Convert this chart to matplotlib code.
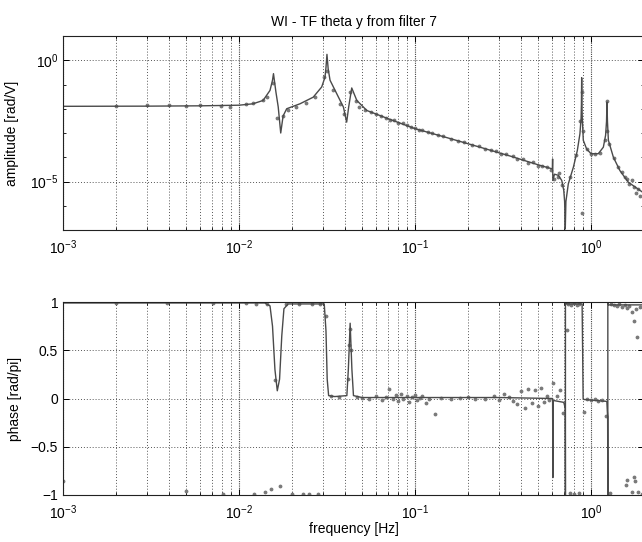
import matplotlib
matplotlib.use("Agg")
import matplotlib.pyplot as plt
from matplotlib.ticker import FixedLocator, LogLocator, NullFormatter, LogFormatterSciNotation

plt.rcParams['font.family'] = ['Liberation Sans', 'DejaVu Sans']
plt.rcParams['mathtext.default'] = 'regular'

# amplitude fit line [Hz, rad/V]
amp_line_f = [0.001, 0.003, 0.006, 0.01, 0.012, 0.0137, 0.015, 0.0155, 0.0157, 0.0162,
              0.0167, 0.01726, 0.0178, 0.01866, 0.0222, 0.0264, 0.0295, 0.0308, 0.0312,
              0.0316, 0.0321, 0.0329, 0.0359, 0.0392, 0.0409, 0.042, 0.0437, 0.0467,
              0.0532, 0.0703, 0.1, 0.15, 0.234, 0.35, 0.5, 0.603, 0.605, 0.607, 0.62,
              0.652, 0.682, 0.70, 0.708, 0.714, 0.72, 0.743, 0.794, 0.836, 0.865, 0.878,
              0.882, 0.885, 0.888, 0.892, 0.904, 0.944, 1.0, 1.1, 1.175, 1.21, 1.225,
              1.232, 1.24, 1.255, 1.34, 1.46, 1.63, 2.0]
amp_line_val = [0.0126, 0.0128, 0.0132, 0.0140, 0.0160, 0.022, 0.057, 0.15, 0.28, 0.05,
                0.012, 0.001, 0.005, 0.010, 0.016, 0.030, 0.079, 0.20, 0.5,
                1.75, 0.45, 0.15, 0.042, 0.0117, 0.0028, 0.012, 0.072, 0.022,
                0.0085, 0.0039, 0.00151, 0.00066, 0.00026, 0.00011, 4.9e-5, 3.3e-5, 8.5e-5, 1.1e-5, 2.0e-5,
                1.8e-5, 1.1e-5, 4.3e-6, 1.5e-6, 1.1e-7, 1.5e-6, 8e-6, 3.9e-5, 1.9e-4, 9.3e-4, 0.004,
                0.015, 0.19, 0.015, 0.004, 5e-4, 2.2e-4, 1.4e-4, 1.4e-4, 2.6e-4, 8e-4, 0.003,
                0.019, 0.003, 5e-4, 1e-4, 2.8e-5, 9.3e-6, 3.3e-6]

# amplitude measurements
amp_dot_f = [0.002, 0.003, 0.004, 0.005, 0.006, 0.0079, 0.0089, 0.011, 0.012, 0.0137,
             0.0145, 0.0155, 0.0165, 0.0178, 0.019, 0.021, 0.024, 0.027, 0.0305, 0.0316,
             0.034, 0.0375, 0.0395, 0.0425, 0.046, 0.048, 0.052, 0.056, 0.06, 0.064,
             0.068, 0.072, 0.076, 0.08, 0.085, 0.09, 0.095, 0.1, 0.105, 0.11, 0.118,
             0.125, 0.135, 0.145, 0.16, 0.175, 0.19, 0.21, 0.23, 0.25, 0.27, 0.29, 0.31,
             0.33, 0.36, 0.38, 0.41, 0.44, 0.47, 0.5, 0.53, 0.56, 0.59, 0.62, 0.65, 0.66,
             0.68, 0.76, 0.82, 0.87, 0.885, 0.885, 0.9, 0.95, 1.0, 1.05, 1.12, 1.2, 1.232,
             1.232, 1.27, 1.35, 1.42, 1.5, 1.55, 1.6, 1.65, 1.7, 1.75, 1.8, 1.85, 1.9]
amp_dot_val = [0.0135, 0.0137, 0.014, 0.0135, 0.014, 0.0135, 0.012, 0.016, 0.0165, 0.022,
               0.03, 0.12, 0.004, 0.005, 0.0085, 0.012, 0.018, 0.03, 0.2, 0.35,
               0.06, 0.015, 0.006, 0.05, 0.02, 0.012, 0.0085, 0.0072, 0.0058, 0.0050,
               0.0043, 0.0036, 0.0034, 0.0027, 0.0025, 0.0021, 0.0017, 0.0016, 0.00135, 0.0013, 0.0011,
               0.00098, 0.00082, 0.00075, 0.00058, 0.00049, 0.00042, 0.00033, 0.00029, 0.00022, 0.0002, 0.00018, 0.00014,
               0.00013, 0.00011, 8.5e-5, 8.5e-5, 6e-5, 6.2e-5, 4.5e-5, 4.2e-5, 3.8e-5, 3e-5, 1.3e-5, 1.5e-5, 2.2e-5,
               7e-6, 1.5e-5, 1.2e-4, 3e-3, 0.05, 5e-7, 1.2e-3, 2.1e-4, 1.4e-4, 1.3e-4, 1.5e-4, 5e-4, 0.02,
               0.0012, 3.5e-4, 9e-5, 4e-5, 2.5e-5, 1.6e-5, 1.3e-5, 8e-6, 1.1e-5, 6e-6, 3.5e-6, 5e-6, 2.5e-6]

# phase fit line [Hz, rad/pi]
phase_line_f = [0.001, 0.014, 0.015, 0.0155, 0.016, 0.0165, 0.017, 0.0175, 0.018, 0.019,
                0.0305, 0.0312, 0.0317, 0.0323, 0.035, 0.041, 0.0418, 0.0428, 0.0438,
                0.0447, 0.05, 0.3, 0.605, 0.607, 0.609, 0.70, 0.714, 0.7155, 0.7156,
                0.725, 0.89, 0.896, 0.902, 0.91, 1.23, 1.243, 1.246, 1.2461, 1.26, 2.0]
phase_line_val = [0.99, 0.99, 0.96, 0.75, 0.3, 0.08, 0.2, 0.65, 0.93, 0.98,
                  0.98, 0.7, 0.2, 0.03, 0.02, 0.03, 0.3, 0.78, 0.3,
                  0.03, 0.01, 0.01, 0.0, -0.82, -0.02, -0.04, -0.1, -1.0, 0.99,
                  0.98, 0.98, 0.5, 0.0, -0.01, -0.03, -0.2, -1.0, 0.99, 0.97, 0.97]

# phase measurements
phase_dot_f = [0.001, 0.002, 0.0039, 0.005, 0.0071, 0.0081, 0.011, 0.0122, 0.0125, 0.014,
               0.0145, 0.0151, 0.016, 0.0172, 0.0185, 0.02, 0.022, 0.023, 0.025, 0.026,
               0.028, 0.029, 0.0313, 0.0335, 0.037, 0.0415, 0.0422, 0.043, 0.0435, 0.047,
               0.05, 0.055, 0.06, 0.065, 0.068, 0.071, 0.075, 0.078, 0.08, 0.083, 0.086,
               0.09, 0.093, 0.096, 0.1, 0.103, 0.107, 0.11, 0.115, 0.12, 0.13, 0.14, 0.16,
               0.18, 0.2, 0.22, 0.25, 0.28, 0.3, 0.32, 0.34, 0.36, 0.38, 0.4, 0.42, 0.44,
               0.46, 0.48, 0.5, 0.52, 0.54, 0.56, 0.58, 0.61, 0.64, 0.67, 0.696, 0.728,
               0.74, 0.77, 0.8, 0.83, 0.86, 0.76, 0.8, 0.85, 0.91, 0.95, 1.0, 1.05, 1.1,
               1.15, 1.22, 1.3, 1.35, 1.4, 1.45, 1.5, 1.55, 1.6, 1.65, 1.7, 1.75, 1.8,
               1.82, 1.9, 1.28, 1.6, 1.58, 1.7, 1.75, 1.77, 1.85, 1.95]
phase_dot_val = [-0.86, 0.99, 0.99, -0.96, 0.99, -0.99, 0.99, -0.99, 0.98, -0.97,
                 0.98, -0.94, 0.19, -0.91, 0.98, -0.99, 0.98, -0.99, -0.99, 0.98,
                 -0.99, 0.98, 0.85, 0.03, 0.02, 0.2, 0.55, 0.72, 0.5, 0.02,
                 0.01, 0.0, 0.03, -0.02, 0.02, 0.095, 0.0, 0.04, -0.03, 0.05, -0.01,
                 0.03, -0.04, 0.02, 0.04, -0.02, 0.01, 0.03, -0.05, 0.0, -0.16, 0.01, 0.0,
                 0.01, 0.02, -0.01, 0.0, 0.03, -0.02, 0.05, 0.02, -0.03, -0.06, 0.08, -0.1, 0.1,
                 -0.05, 0.09, -0.08, 0.11, -0.04, 0.03, -0.02, 0.16, 0.03, 0.09, -0.15, 0.71,
                 0.98, 0.97, 0.99, 0.97, 0.98, -0.98, -0.99, -0.98, -0.14, -0.01, -0.02, -0.01, -0.03,
                 -0.02, -0.18, 0.98, 0.97, 0.96, 0.98, 0.95, 0.97, 0.94, 0.96, 0.9, 0.8, 0.93,
                 0.64, 0.95, -0.98, -0.845, -0.9, -0.97, -0.81, -0.86, -0.97, -0.99]

line_col = '#4a4a4a'
dot_col = '#7a7a7a'
grid_minor = dict(color='#555555', linestyle=(0, (1, 2)), linewidth=0.7)
grid_major = dict(color='#444444', linestyle=(0, (1, 1)), linewidth=0.8)

fig = plt.figure(figsize=(6.42, 5.42), dpi=100)
ax1 = fig.add_axes([63 / 642, 1 - 230 / 542, 581 / 642, 194 / 542])
ax2 = fig.add_axes([63 / 642, 1 - 495 / 542, 581 / 642, 193 / 542])

# amplitude
ax1.loglog(amp_dot_f, amp_dot_val, '.', color=dot_col, markersize=3.5)
ax1.loglog(amp_line_f, amp_line_val, '-', color=line_col, linewidth=1.0)
ax1.set_xlim(1e-3, 2.0)
ax1.set_ylim(1e-7, 1e1)
ax1.yaxis.set_major_locator(FixedLocator([1e-5, 1e0]))
ax1.yaxis.set_major_formatter(LogFormatterSciNotation())
ax1.yaxis.set_minor_locator(LogLocator(base=10, subs=[1.0], numticks=20))
ax1.yaxis.set_minor_formatter(NullFormatter())
ax1.set_ylabel('amplitude [rad/V]', fontsize=10)
ax1.yaxis.set_label_coords(-0.075, 0.5)
ax1.set_title('WI - TF theta y from filter 7', fontsize=10, pad=7)
ax1.grid(True, axis='y', which='major', **grid_minor)

# phase
ax2.semilogx(phase_dot_f, phase_dot_val, '.', color=dot_col, markersize=3.5)
ax2.semilogx(phase_line_f, phase_line_val, '-', color=line_col, linewidth=1.0)
ax2.set_xlim(1e-3, 2.0)
ax2.set_ylim(-1, 1)
ax2.set_yticks([-1, -0.5, 0, 0.5, 1])
ax2.set_yticklabels(['\u22121', '\u22120.5', '0', '0.5', '1'])
ax2.set_ylabel('phase [rad/pi]', fontsize=10)
ax2.yaxis.set_label_coords(-0.07, 0.5)
ax2.set_xlabel('frequency [Hz]', fontsize=10, labelpad=0)
ax2.grid(True, axis='y', which='major', **grid_minor)

for ax in (ax1, ax2):
    ax.xaxis.set_minor_locator(LogLocator(base=10, subs=range(2, 10), numticks=20))
    ax.xaxis.set_minor_formatter(NullFormatter())
    ax.grid(True, axis='x', which='minor', **grid_minor)
    ax.grid(True, axis='x', which='major', **grid_major)
    ax.tick_params(which='both', direction='in', top=True, right=True, labelsize=10)
    ax.tick_params(axis='x', which='major', pad=6)
    ax.tick_params(which='major', length=4, width=0.7)
    ax.tick_params(which='minor', length=2.5, width=0.6)
    for s in ax.spines.values():
        s.set_linewidth(0.8)
        s.set_color('#222222')

fig.savefig('out.png', dpi=100)
